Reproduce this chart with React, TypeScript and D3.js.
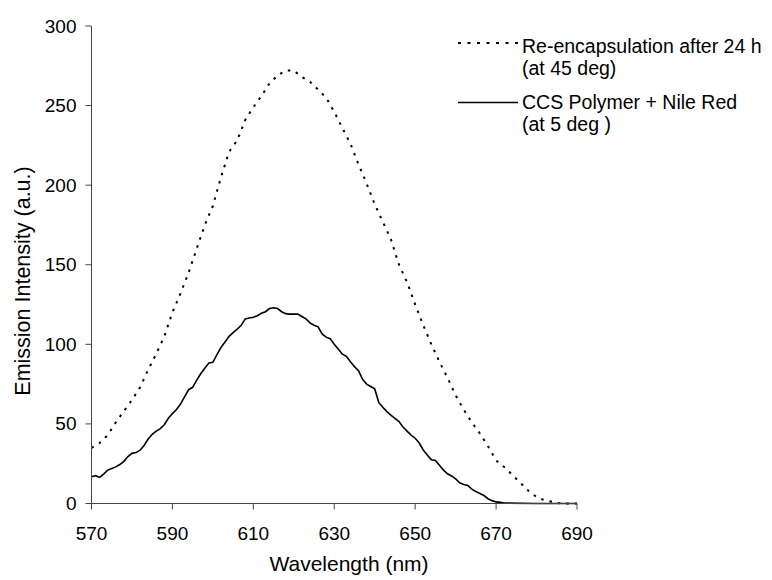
import React from "react";
import * as d3 from "d3";

const xTicks = [570, 590, 610, 630, 650, 670, 690];
const yTicks = [0, 50, 100, 150, 200, 250, 300];

const seriesNames = ["Re-encapsulation after 24 h", "CCS Polymer + Nile Red"];
const seriesSub = ["(at 45 deg)", "(at 5 deg )"];

// Re-encapsulation after 24 h (dotted)
const reencWavelength = [
  570, 572, 574, 576, 578, 580, 582, 584, 586, 588, 590, 592, 594, 596, 598, 600,
  602, 604, 606, 608, 610, 612, 614, 616, 618, 620, 622, 624, 626, 628, 630, 632,
  634, 636, 638, 640, 642, 644, 646, 648, 650, 652, 654, 656, 658, 660, 662, 664,
  666, 668, 670, 672, 674, 676, 678, 680, 682, 684, 686, 688, 690,
];
const reencValues = [
  35, 38, 43, 51, 58, 65, 73, 84, 94, 105, 120, 132, 145, 160, 175, 187,
  205, 221, 228, 241, 249, 256, 264, 269, 272, 272, 268, 265, 260, 255, 246, 236,
  226, 213, 201, 188, 177, 166, 150, 139, 125, 112, 100, 89, 79, 68, 59, 51,
  44, 36, 27, 23, 18, 13, 8, 4, 2, 1, 0, 0, 0,
];

// CCS Polymer + Nile Red (solid)
const ccsWavelength = [
  570, 571, 572, 573, 574, 575, 576, 577, 578, 579, 580, 581, 582, 583, 584, 585,
  586, 587, 588, 589, 590, 591, 592, 593, 594, 595, 596, 597, 598, 599, 600, 601,
  602, 603, 604, 605, 606, 607, 608, 609, 610, 611, 612, 613, 614, 615, 616, 617,
  618, 619, 620, 621, 622, 623, 624, 625, 626, 627, 628, 629, 630, 631, 632, 633,
  634, 635, 636, 637, 638, 639, 640, 641, 642, 643, 644, 645, 646, 647, 648, 649,
  650, 651, 652, 653, 654, 655, 656, 657, 658, 659, 660, 661, 662, 663, 664, 665,
  666, 667, 668, 669, 670, 671, 672, 680, 690,
];
const ccsValues = [
  16.8, 17.5, 16.4, 18.5, 21, 22, 23, 24.5, 26.5, 29.5, 31.5, 32, 33.5, 36.5, 40.5, 43.5,
  45.5, 47, 49.5, 53.5, 56.5, 59, 62.5, 67, 71.5, 73, 77.5, 81.5, 85, 88.3, 88.7, 93.5,
  98, 101.5, 105, 107.3, 109.5, 112, 116, 116.5, 117, 118, 119.5, 120.5, 122.5, 123, 122.5, 120.5,
  119.3, 119, 119, 119, 117.5, 116, 113.5, 112, 111, 106.5, 104.5, 103.5, 100, 97, 93.8, 92.5,
  89, 86, 83.5, 78, 75, 73.5, 72, 63.5, 60.5, 57.7, 55.5, 53.5, 51.5, 48, 45.5, 43,
  41, 38, 33.6, 30.5, 27.5, 27, 24, 21, 18.7, 17.3, 15.5, 13, 12, 11.3, 9, 7.5,
  6.3, 5, 3, 1.8, 1, 0.7, 0.3, 0, 0,
];

const W = 772;
const H = 580;
const left = 91.5;
const right = 577;
const top = 26;
const bottom = 503.5;
const FONT = "Liberation Sans, Arial, sans-serif";

export default function App() {
  const x = d3.scaleLinear().domain([570, 690]).range([left, right]);
  const y = d3.scaleLinear().domain([0, 300]).range([bottom, top]);

  const line = d3
    .line<[number, number]>()
    .x((d) => x(d[0]))
    .y((d) => y(d[1]));

  const reencPts = reencWavelength.map((w, i) => [w, reencValues[i]] as [number, number]);
  const ccsPts = ccsWavelength.map((w, i) => [w, ccsValues[i]] as [number, number]);

  const legX1 = 458;
  const legX2 = 518;
  const legTextX = 522;

  return (
    <svg
      width={W}
      height={H}
      style={{ position: "absolute", left: 0, top: 0, background: "#fff" }}
      fontFamily={FONT}
    >
      <rect x={0} y={0} width={W} height={H} fill="#fff" />
      {/* series */}
      <path
        d={line(reencPts) || ""}
        fill="none"
        stroke="#000"
        strokeWidth={2}
        strokeDasharray="2.5,6"
      />
      <path d={line(ccsPts) || ""} fill="none" stroke="#000" strokeWidth={1.6} />

      {/* axes */}
      <line x1={left} x2={left} y1={top} y2={bottom} stroke="#444" strokeWidth={1} />
      <line x1={left} x2={right} y1={bottom} y2={bottom} stroke="#444" strokeWidth={1} />
      {yTicks.map((t) => (
        <g key={"y" + t}>
          <line x1={left - 6} x2={left} y1={y(t)} y2={y(t)} stroke="#444" />
          <text
            x={left - 15}
            y={y(t)}
            textAnchor="end"
            dominantBaseline="central"
            fontSize={19}
            fill="#000"
          >
            {t}
          </text>
        </g>
      ))}
      {xTicks.map((t) => (
        <g key={"x" + t}>
          <line x1={x(t)} x2={x(t)} y1={bottom} y2={bottom + 6} stroke="#444" />
          <text x={x(t)} y={540} textAnchor="middle" fontSize={19} fill="#000">
            {t}
          </text>
        </g>
      ))}
      <text x={349} y={571} textAnchor="middle" fontSize={21} fill="#000">
        Wavelength (nm)
      </text>
      <text
        transform={`translate(30,281) rotate(-90)`}
        textAnchor="middle"
        fontSize={21.5}
        fill="#000"
      >
        Emission Intensity (a.u.)
      </text>

      {/* legend */}
      <line
        x1={legX1}
        x2={legX2}
        y1={43}
        y2={43}
        stroke="#000"
        strokeWidth={2}
        strokeDasharray="3,6.5"
      />
      <text x={legTextX} y={53} fontSize={19.5} fill="#000">
        {seriesNames[0]}
      </text>
      <text x={legTextX} y={75} fontSize={19.5} fill="#000">
        {seriesSub[0]}
      </text>
      <line x1={legX1} x2={legX2} y1={102.5} y2={102.5} stroke="#000" strokeWidth={1.6} />
      <text x={legTextX} y={109} fontSize={19.5} fill="#000">
        {seriesNames[1]}
      </text>
      <text x={legTextX} y={131} fontSize={19.5} fill="#000">
        {seriesSub[1]}
      </text>
    </svg>
  );
}
